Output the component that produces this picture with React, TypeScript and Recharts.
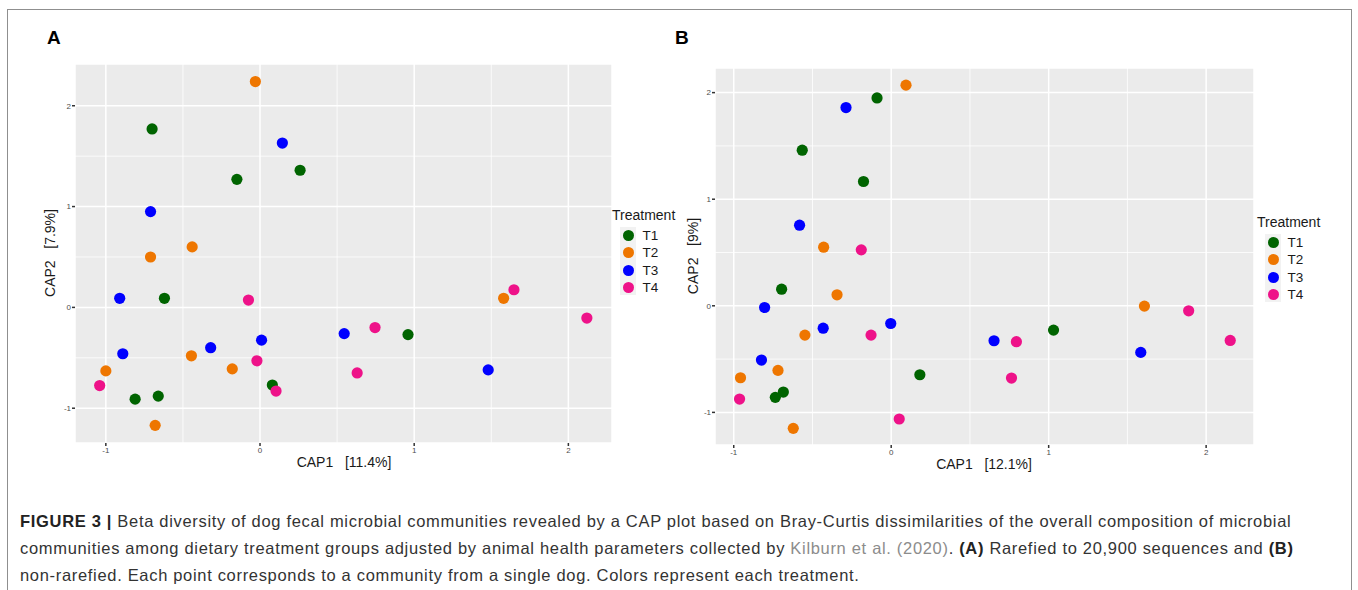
import React from 'react';
import {
  ScatterChart,
  Scatter,
  XAxis,
  YAxis,
  CartesianGrid,
  ReferenceLine,
} from 'recharts';

// panel A (rarefied) points, [CAP1, CAP2]
const rarefiedT1 = [[-0.70, 1.77], [-0.15, 1.27], [0.26, 1.36], [-0.62, 0.09], [-0.81, -0.91], [-0.66, -0.88], [0.08, -0.77], [0.96, -0.27]];
const rarefiedT2 = [[-0.03, 2.24], [-0.44, 0.60], [-0.71, 0.50], [-0.445, -0.48], [-0.18, -0.61], [-1.0, -0.63], [-0.68, -1.17], [1.58, 0.09]];
const rarefiedT3 = [[0.145, 1.63], [-0.71, 0.95], [-0.91, 0.09], [-0.89, -0.46], [-0.32, -0.40], [0.01, -0.325], [0.546, -0.26], [1.48, -0.62]];
const rarefiedT4 = [[-0.075, 0.073], [-1.04, -0.775], [-0.02, -0.53], [0.104, -0.83], [0.63, -0.65], [0.746, -0.20], [1.647, 0.175], [2.12, -0.106]];

// panel B (non-rarefied) points
const fullT1 = [[-0.09, 1.95], [-0.565, 1.46], [-0.176, 1.166], [-0.696, 0.156], [1.031, -0.228], [0.182, -0.647], [-0.685, -0.809], [-0.736, -0.859]];
const fullT2 = [[0.094, 2.07], [-0.429, 0.55], [-0.344, 0.103], [-0.548, -0.275], [-0.719, -0.606], [-0.957, -0.675], [-0.622, -1.15], [1.608, -0.003]];
const fullT3 = [[-0.287, 1.86], [-0.582, 0.756], [-0.804, -0.016], [-0.432, -0.21], [-0.003, -0.166], [-0.824, -0.509], [0.653, -0.328], [1.585, -0.437]];
const fullT4 = [[-0.19, 0.525], [-0.128, -0.275], [-0.963, -0.875], [0.051, -1.062], [0.795, -0.337], [0.764, -0.678], [1.889, -0.047], [2.153, -0.325]];

const treatments = ['T1', 'T2', 'T3', 'T4'];
const colors = ['#006400', '#EE7600', '#0000FF', '#EE1289'];
const majorTicks = [-1, 0, 1, 2];
const minorTicks = [-0.5, 0.5, 1.5];

const FONT = '"Liberation Sans", Arial, Helvetica, sans-serif';

const toPoints = (arr: number[][]) => arr.map(([x, y]) => ({ x, y }));

type PanelProps = {
  series: number[][][];
  xDomain: [number, number];
  yDomain: [number, number];
  left: number;
  width: number;
  margin: { top: number; right: number; bottom: number; left: number };
};

const CapPanel: React.FC<PanelProps> = ({ series, xDomain, yDomain, left, width, margin }) => (
  <div style={{ position: 'absolute', left, top: 0 }}>
    <ScatterChart width={width} height={480} margin={margin}>
      <CartesianGrid fill="#EBEBEB" stroke="#FFFFFF" strokeWidth={1.5} />
      {minorTicks.map((v) => (
        <ReferenceLine key={'x' + v} x={v} stroke="#FFFFFF" strokeWidth={0.8} />
      ))}
      {minorTicks.map((v) => (
        <ReferenceLine key={'y' + v} y={v} stroke="#FFFFFF" strokeWidth={0.8} />
      ))}
      <XAxis
        type="number"
        dataKey="x"
        domain={xDomain}
        ticks={majorTicks}
        allowDataOverflow
        height={10}
        axisLine={false}
        tickLine={{ stroke: '#333333', strokeWidth: 1.5 }}
        tickSize={3}
        tickMargin={1}
        tick={{ fontSize: 8, fill: '#4D4D4D', fontFamily: FONT }}
      />
      <YAxis
        type="number"
        dataKey="y"
        domain={yDomain}
        ticks={majorTicks}
        allowDataOverflow
        width={10}
        axisLine={false}
        tickLine={{ stroke: '#333333', strokeWidth: 1.5 }}
        tickSize={3}
        tickMargin={1}
        tick={{ fontSize: 8, fill: '#4D4D4D', fontFamily: FONT }}
      />
      {series.map((pts, i) => (
        <Scatter
          key={treatments[i]}
          name={treatments[i]}
          data={toPoints(pts)}
          fill={colors[i]}
          isAnimationActive={false}
          shape={(p: any) => <circle cx={p.cx} cy={p.cy} r={5.6} fill={colors[i]} />}
        />
      ))}
    </ScatterChart>
  </div>
);

const LegendBox: React.FC<{ left: number; top: number }> = ({ left, top }) => (
  <div style={{ position: 'absolute', left, top, fontFamily: FONT, color: '#1a1a1a' }}>
    <div style={{ fontSize: 14, lineHeight: '16px' }}>Treatment</div>
    <div style={{ position: 'relative', marginTop: 4, marginLeft: 8 }}>
      <div style={{ position: 'absolute', left: 0, top: 0, width: 16, height: 68, background: '#F2F2F2' }} />
      {treatments.map((t, i) => (
        <div key={t} style={{ position: 'relative', height: 17.3, display: 'flex', alignItems: 'center' }}>
          <div style={{ width: 11, height: 11, borderRadius: '50%', background: colors[i], marginLeft: 2.5 }} />
          <span style={{ fontSize: 13.5, marginLeft: 9 }}>{t}</span>
        </div>
      ))}
    </div>
  </div>
);

const txt = (extra: React.CSSProperties): React.CSSProperties => ({
  position: 'absolute',
  fontFamily: FONT,
  whiteSpace: 'pre',
  color: '#1a1a1a',
  ...extra,
});

const App: React.FC = () => (
  <div style={{ position: 'absolute', left: 0, top: 0, width: 1358, height: 590, background: '#fff', overflow: 'hidden' }}>
    <div style={{ position: 'absolute', left: 7, top: 9, width: 1343, height: 600, border: '1.5px solid #8f8f8f' }} />

    <div style={txt({ left: 47, top: 27, fontSize: 19, fontWeight: 700, color: '#000' })}>A</div>
    <div style={txt({ left: 675, top: 27, fontSize: 19, fontWeight: 700, color: '#000' })}>B</div>

    <CapPanel
      series={[rarefiedT1, rarefiedT2, rarefiedT3, rarefiedT4]}
      xDomain={[-1.2, 2.283]}
      yDomain={[-1.345, 2.414]}
      left={0}
      width={700}
      margin={{ top: 64, right: 88, bottom: 27, left: 65 }}
    />
    <CapPanel
      series={[fullT1, fullT2, fullT3, fullT4]}
      xDomain={[-1.119, 2.304]}
      yDomain={[-1.306, 2.231]}
      left={660}
      width={698}
      margin={{ top: 68, right: 104, bottom: 25, left: 45 }}
    />

    <div style={txt({ left: 344, top: 462, fontSize: 14, transform: 'translate(-50%, -50%)' })}>{'CAP1   [11.4%]'}</div>
    <div style={txt({ left: 984, top: 464, fontSize: 14, transform: 'translate(-50%, -50%)' })}>{'CAP1   [12.1%]'}</div>
    <div style={txt({ left: 50, top: 253, fontSize: 14, transform: 'translate(-50%, -50%) rotate(-90deg)' })}>{'CAP2   [7.9%]'}</div>
    <div style={txt({ left: 693, top: 256, fontSize: 14, transform: 'translate(-50%, -50%) rotate(-90deg)' })}>{'CAP2   [9%]'}</div>

    <LegendBox left={612} top={207} />
    <LegendBox left={1257} top={214} />

    <div style={txt({ left: 20, top: 508, fontSize: 16.5, letterSpacing: 0.68, color: '#333', lineHeight: '26.8px' })}>
      <div>
        <b style={{ color: '#222' }}>FIGURE 3 |</b> Beta diversity of dog fecal microbial communities revealed by a CAP plot based on Bray-Curtis dissimilarities of the overall composition of microbial
      </div>
      <div>
        communities among dietary treatment groups adjusted by animal health parameters collected by{' '}
        <span style={{ color: '#8C8C8C' }}>Kilburn et al. (2020)</span>. <b style={{ color: '#222' }}>(A)</b> Rarefied to 20,900 sequences and <b style={{ color: '#222' }}>(B)</b>
      </div>
      <div>non-rarefied. Each point corresponds to a community from a single dog. Colors represent each treatment.</div>
    </div>
  </div>
);

export default App;
